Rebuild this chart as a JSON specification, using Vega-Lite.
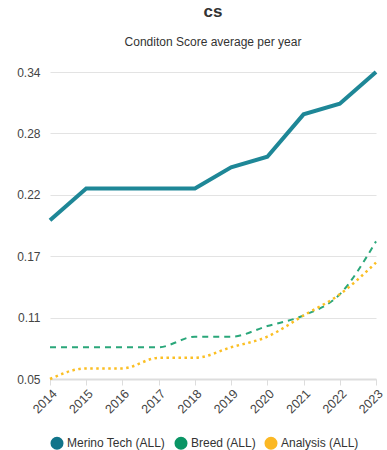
{
  "$schema": "https://vega.github.io/schema/vega-lite/v6.json",
  "width": 326,
  "height": 307,
  "autosize": {"type": "none"},
  "padding": {"left": 50, "top": 72, "right": 11, "bottom": 71},
  "background": "white",
  "title": {
    "text": "cs",
    "subtitle": "Conditon Score average per year",
    "anchor": "middle",
    "font": "Liberation Sans",
    "fontSize": 17,
    "fontWeight": "bold",
    "color": "#333333",
    "subtitleFont": "Liberation Sans",
    "subtitleFontSize": 12,
    "subtitleColor": "#333333",
    "subtitlePadding": 16,
    "offset": 15
  },
  "data": {
    "values": [
      {"year": "2014", "series": "Merino Tech (ALL)", "value": 0.20},
      {"year": "2015", "series": "Merino Tech (ALL)", "value": 0.23},
      {"year": "2016", "series": "Merino Tech (ALL)", "value": 0.23},
      {"year": "2017", "series": "Merino Tech (ALL)", "value": 0.23},
      {"year": "2018", "series": "Merino Tech (ALL)", "value": 0.23},
      {"year": "2019", "series": "Merino Tech (ALL)", "value": 0.25},
      {"year": "2020", "series": "Merino Tech (ALL)", "value": 0.26},
      {"year": "2021", "series": "Merino Tech (ALL)", "value": 0.30},
      {"year": "2022", "series": "Merino Tech (ALL)", "value": 0.31},
      {"year": "2023", "series": "Merino Tech (ALL)", "value": 0.34},
      {"year": "2014", "series": "Breed (ALL)", "value": 0.08},
      {"year": "2015", "series": "Breed (ALL)", "value": 0.08},
      {"year": "2016", "series": "Breed (ALL)", "value": 0.08},
      {"year": "2017", "series": "Breed (ALL)", "value": 0.08},
      {"year": "2018", "series": "Breed (ALL)", "value": 0.09},
      {"year": "2019", "series": "Breed (ALL)", "value": 0.09},
      {"year": "2020", "series": "Breed (ALL)", "value": 0.10},
      {"year": "2021", "series": "Breed (ALL)", "value": 0.11},
      {"year": "2022", "series": "Breed (ALL)", "value": 0.13},
      {"year": "2023", "series": "Breed (ALL)", "value": 0.18},
      {"year": "2014", "series": "Analysis (ALL)", "value": 0.05},
      {"year": "2015", "series": "Analysis (ALL)", "value": 0.06},
      {"year": "2016", "series": "Analysis (ALL)", "value": 0.06},
      {"year": "2017", "series": "Analysis (ALL)", "value": 0.07},
      {"year": "2018", "series": "Analysis (ALL)", "value": 0.07},
      {"year": "2019", "series": "Analysis (ALL)", "value": 0.08},
      {"year": "2020", "series": "Analysis (ALL)", "value": 0.09},
      {"year": "2021", "series": "Analysis (ALL)", "value": 0.11},
      {"year": "2022", "series": "Analysis (ALL)", "value": 0.13},
      {"year": "2023", "series": "Analysis (ALL)", "value": 0.16}
    ]
  },
  "encoding": {
    "x": {
      "field": "year",
      "type": "ordinal",
      "scale": {"type": "point", "padding": 0},
      "axis": {
        "title": null,
        "labelAngle": -45,
        "labelAlign": "right",
        "labelBaseline": "top",
        "labelFont": "Liberation Sans",
        "labelFontSize": 12.5,
        "labelColor": "#444444",
        "labelPadding": 2,
        "domainColor": "#dddddd",
        "domainWidth": 2,
        "tickColor": "#dddddd",
        "tickWidth": 1,
        "tickSize": 6,
        "grid": false
      }
    },
    "y": {
      "field": "value",
      "type": "quantitative",
      "scale": {"domain": [0.05, 0.34], "nice": false, "zero": false},
      "axis": {
        "title": null,
        "values": [0.05, 0.108, 0.166, 0.224, 0.282, 0.34],
        "format": ".2f",
        "labelFont": "Liberation Sans",
        "labelFontSize": 12,
        "labelColor": "#444444",
        "labelPadding": 10,
        "domain": false,
        "ticks": false,
        "grid": true,
        "gridColor": "#e3e3e3",
        "gridWidth": 1
      }
    },
    "color": {
      "field": "series",
      "type": "nominal",
      "scale": {
        "domain": ["Merino Tech (ALL)", "Breed (ALL)", "Analysis (ALL)"],
        "range": ["#1e8797", "#2aa77a", "#fbbf24"]
      },
      "legend": {
        "orient": "bottom",
        "direction": "horizontal",
        "title": null,
        "symbolType": "circle",
        "symbolSize": 170,
        "labelFont": "Liberation Sans",
        "labelFontSize": 12,
        "labelColor": "#333333",
        "labelOffset": 3,
        "columnPadding": 8,
        "offset": 20,
        "encode": {
          "symbols": {
            "update": {
              "fill": {"signal": "datum.value === 'Merino Tech (ALL)' ? '#11748a' : datum.value === 'Breed (ALL)' ? '#0a9565' : '#fbb824'"},
              "strokeWidth": {"value": 0},
              "opacity": {"value": 1}
            }
          }
        }
      }
    }
  },
  "layer": [
    {
      "transform": [{"filter": "datum.series === 'Merino Tech (ALL)'"}],
      "mark": {"type": "line", "strokeWidth": 4, "interpolate": "linear"}
    },
    {
      "transform": [{"filter": "datum.series === 'Breed (ALL)'"}],
      "mark": {"type": "line", "strokeWidth": 2, "strokeDash": [6, 5], "interpolate": "monotone"}
    },
    {
      "transform": [{"filter": "datum.series === 'Analysis (ALL)'"}],
      "mark": {"type": "line", "strokeWidth": 2.5, "strokeDash": [2.5, 3.5], "interpolate": "monotone"}
    }
  ],
  "config": {"view": {"stroke": null}}
}
